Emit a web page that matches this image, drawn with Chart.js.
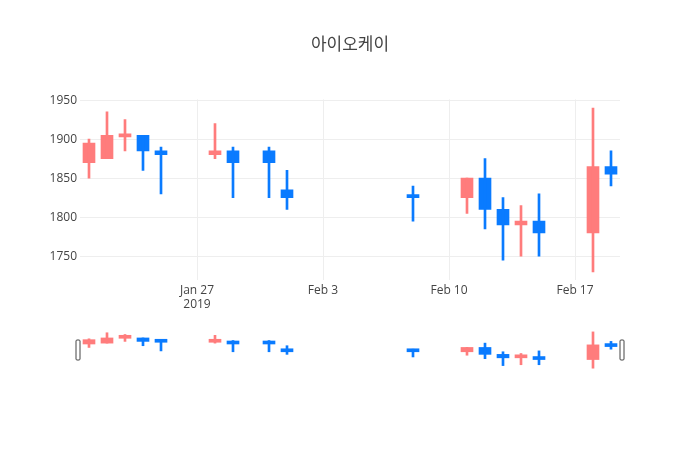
<!DOCTYPE html>
<html>
<head>
<meta charset="utf-8">
<script src="https://cdn.jsdelivr.net/npm/chart.js@4.4.1/dist/chart.umd.min.js"></script>
<style>
  html, body { margin: 0; padding: 0; background: #fff; }
  #wrap { position: relative; width: 700px; height: 450px; }
  #main { position: absolute; left: 0; top: 0; }
  #slider { position: absolute; left: 0; top: 330px; }
</style>
</head>
<body>
<div id="wrap">
  <canvas id="main" width="700" height="450"></canvas>
  <canvas id="slider" width="700" height="40"></canvas>
</div>
<script>
const titleText = '아이오케이';

const dates = ['2019-01-21', '2019-01-22', '2019-01-23', '2019-01-24', '2019-01-25',
               '2019-01-28', '2019-01-29', '2019-01-31', '2019-02-01', '2019-02-08',
               '2019-02-11', '2019-02-12', '2019-02-13', '2019-02-14', '2019-02-15',
               '2019-02-18', '2019-02-19'];
const openVals  = [1870, 1875, 1903, 1905, 1885, 1880, 1885, 1885, 1835, 1826, 1825, 1850, 1810, 1790, 1795, 1780, 1865];
const highVals  = [1900, 1935, 1925, 1905, 1890, 1920, 1890, 1890, 1860, 1840, 1850, 1875, 1825, 1815, 1830, 1940, 1885];
const lowVals   = [1850, 1875, 1885, 1860, 1830, 1875, 1825, 1825, 1810, 1795, 1805, 1785, 1745, 1750, 1750, 1730, 1840];
const closeVals = [1895, 1905, 1906, 1885, 1880, 1885, 1870, 1870, 1825, 1825, 1850, 1810, 1790, 1795, 1780, 1865, 1855];

const xTickDates = ['2019-01-27', '2019-02-03', '2019-02-10', '2019-02-17'];
const xTickLabels = [['Jan 27', '2019'], ['Feb 3'], ['Feb 10'], ['Feb 17']];
const yTicks = [1750, 1800, 1850, 1900, 1950];

const upColor = '#ff7c7c';
const downColor = '#0a7bff';

// days since epoch, so a plain linear axis can stand in for a time axis
function dayNum(s) {
    return Date.UTC(+s.slice(0, 4), +s.slice(5, 7) - 1, +s.slice(8, 10)) / 86400000;
}
const xs = dates.map(dayNum);
const xMin = Math.min(...xs) - 0.5;
const xMax = Math.max(...xs) + 0.5;
const yMin = 1719.5;
const yMax = 1951;

function candleSets() {
    const upBody = [], upWick = [], downBody = [], downWick = [];
    xs.forEach((x, i) => {
        const up = closeVals[i] >= openVals[i];
        (up ? upBody : downBody).push({ x: x, y: [openVals[i], closeVals[i]] });
        (up ? upWick : downWick).push({ x: x, y: [lowVals[i], highVals[i]] });
    });
    const base = { grouped: false, borderWidth: 0, borderSkipped: false };
    return [
        Object.assign({ label: 'up wick', data: upWick, backgroundColor: upColor, barThickness: 2 }, base),
        Object.assign({ label: 'down wick', data: downWick, backgroundColor: downColor, barThickness: 2 }, base),
        Object.assign({ label: 'up', data: upBody, backgroundColor: upColor, barThickness: 12, minBarLength: 3 }, base),
        Object.assign({ label: 'down', data: downBody, backgroundColor: downColor, barThickness: 12, minBarLength: 3 }, base)
    ];
}

const tickFont = { family: "'Open Sans', sans-serif", size: 12 };

new Chart(document.getElementById('main').getContext('2d'), {
    type: 'bar',
    data: { datasets: candleSets() },
    options: {
        responsive: false,
        animation: false,
        layout: { padding: 0 },
        plugins: {
            legend: { display: false },
            tooltip: { enabled: false },
            title: {
                display: true,
                text: titleText,
                color: '#444',
                font: { family: "'Open Sans', 'Noto Sans CJK KR', sans-serif", size: 17, weight: 'normal' },
                padding: { top: 35, bottom: 44 }
            }
        },
        scales: {
            x: {
                type: 'linear',
                min: xMin,
                max: xMax,
                offset: false,
                grid: { color: '#eee', offset: false, drawTicks: false },
                border: { display: false },
                afterBuildTicks: (scale) => {
                    scale.ticks = xTickDates.map(d => ({ value: dayNum(d) }));
                },
                afterFit: (scale) => { scale.height = 170; },
                ticks: {
                    color: '#444',
                    font: tickFont,
                    padding: 3,
                    maxRotation: 0,
                    autoSkip: false,
                    callback: (v) => {
                        const i = xTickDates.findIndex(d => dayNum(d) === v);
                        return i >= 0 ? xTickLabels[i] : '';
                    }
                }
            },
            y: {
                min: yMin,
                max: yMax,
                grid: { color: '#eee', drawTicks: false },
                border: { display: false },
                afterBuildTicks: (scale) => {
                    scale.ticks = yTicks.map(v => ({ value: v }));
                },
                afterFit: (scale) => { scale.width = 80; },
                ticks: { color: '#444', font: tickFont, padding: 3, callback: (v) => String(v) }
            },
            // empty right-hand margin so the title centres on the page
            yRight: {
                position: 'right',
                min: yMin,
                max: yMax,
                grid: { display: false },
                border: { display: false },
                ticks: { display: false },
                afterFit: (scale) => { scale.width = 80; }
            }
        }
    }
});

// range slider grab handles at both ends
const handlePlugin = {
    id: 'handles',
    afterDraw(chart) {
        const { ctx, chartArea } = chart;
        const midY = (chartArea.top + chartArea.bottom) / 2;
        ctx.save();
        ctx.fillStyle = '#fff';
        ctx.strokeStyle = '#444';
        ctx.lineWidth = 1;
        [chartArea.left - 2, chartArea.right + 2].forEach(cx => {
            ctx.beginPath();
            ctx.roundRect(cx - 2, midY - 10, 4, 20, 1);
            ctx.fill();
            ctx.stroke();
        });
        ctx.restore();
    }
};

new Chart(document.getElementById('slider').getContext('2d'), {
    type: 'bar',
    data: { datasets: candleSets() },
    plugins: [handlePlugin],
    options: {
        responsive: false,
        animation: false,
        layout: { padding: { left: 80, right: 80, top: 0, bottom: 0 } },
        plugins: { legend: { display: false }, tooltip: { enabled: false } },
        scales: {
            x: { type: 'linear', min: xMin, max: xMax, offset: false, display: false },
            y: { min: yMin, max: yMax, display: false }
        }
    }
});
</script>
</body>
</html>
